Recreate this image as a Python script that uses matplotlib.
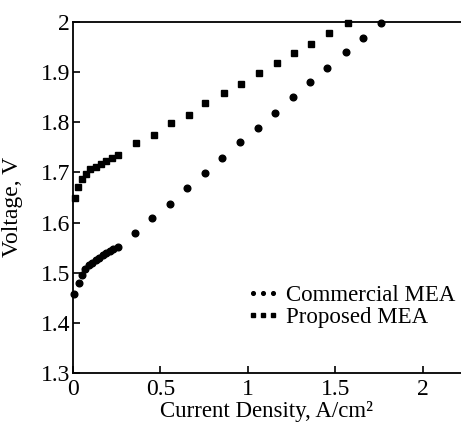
import numpy as np
import matplotlib.pyplot as plt

plt.rcParams["font.family"] = ["Liberation Serif", "DejaVu Serif"]

# Commercial MEA (circles)
comm_j = [0.006, 0.034, 0.05, 0.07, 0.09, 0.11, 0.13, 0.15, 0.17, 0.19, 0.21, 0.23, 0.26,
          0.354, 0.453, 0.554, 0.653, 0.756, 0.853, 0.958, 1.057, 1.156, 1.257, 1.356,
          1.455, 1.562, 1.661, 1.762]
comm_v = [1.457, 1.48, 1.495, 1.507, 1.515, 1.52, 1.525, 1.53, 1.535, 1.539, 1.543, 1.547, 1.551,
          1.579, 1.609, 1.638, 1.668, 1.698, 1.729, 1.76, 1.789, 1.818, 1.85, 1.88,
          1.908, 1.94, 1.969, 1.999]

# Proposed MEA (squares)
prop_j = [0.011, 0.03, 0.051, 0.074, 0.099, 0.13, 0.16, 0.19, 0.225, 0.259,
          0.36, 0.463, 0.562, 0.661, 0.758, 0.863, 0.96, 1.065, 1.167, 1.267,
          1.36, 1.463, 1.573]
prop_v = [1.65, 1.67, 1.687, 1.697, 1.707, 1.711, 1.717, 1.723, 1.728, 1.734,
          1.758, 1.775, 1.798, 1.815, 1.838, 1.858, 1.877, 1.898, 1.918, 1.938,
          1.957, 1.978, 1.998]

fig = plt.figure(figsize=(4.61, 4.23), dpi=100)
ax = fig.add_axes([73 / 461, 50 / 423, 388 / 461, 351 / 423])

ax.plot(comm_j, comm_v, "o", color="black", markersize=4.8, label="Commercial MEA", clip_on=False)
ax.plot(prop_j, prop_v, "s", color="black", markersize=4.5, label="Proposed MEA", clip_on=False)

ax.set_xlim(0, 2.22)
ax.set_ylim(1.3, 2.0)
ax.set_xticks([0, 0.5, 1, 1.5, 2])
ax.set_xticklabels(["0", "0.5", "1", "1.5", "2"])
ax.set_yticks(np.arange(1.3, 2.01, 0.1))
ax.set_yticklabels(["1.3", "1.4", "1.5", "1.6", "1.7", "1.8", "1.9", "2"])

ax.spines["right"].set_visible(False)
for s in ["left", "top", "bottom"]:
    ax.spines[s].set_linewidth(1.3)
ax.tick_params(direction="in", length=5, width=1.2, labelsize=17, top=False, right=False)
ax.tick_params(axis="x", pad=4)
ax.tick_params(axis="y", pad=2)

ax.set_xlabel("Current Density, A/cm²", fontsize=16.5, labelpad=1)
ax.set_ylabel("Voltage, V", fontsize=17)
ax.yaxis.set_label_coords(-0.13, 0.473)

ax.legend(loc="upper left", bbox_to_anchor=(0.445, 0.25), frameon=False, fontsize=16.5,
          numpoints=3, markerscale=0.55, handlelength=1.5, handletextpad=0.25,
          labelspacing=0.05, borderpad=0, borderaxespad=0)

fig.savefig("out.png", dpi=100)
